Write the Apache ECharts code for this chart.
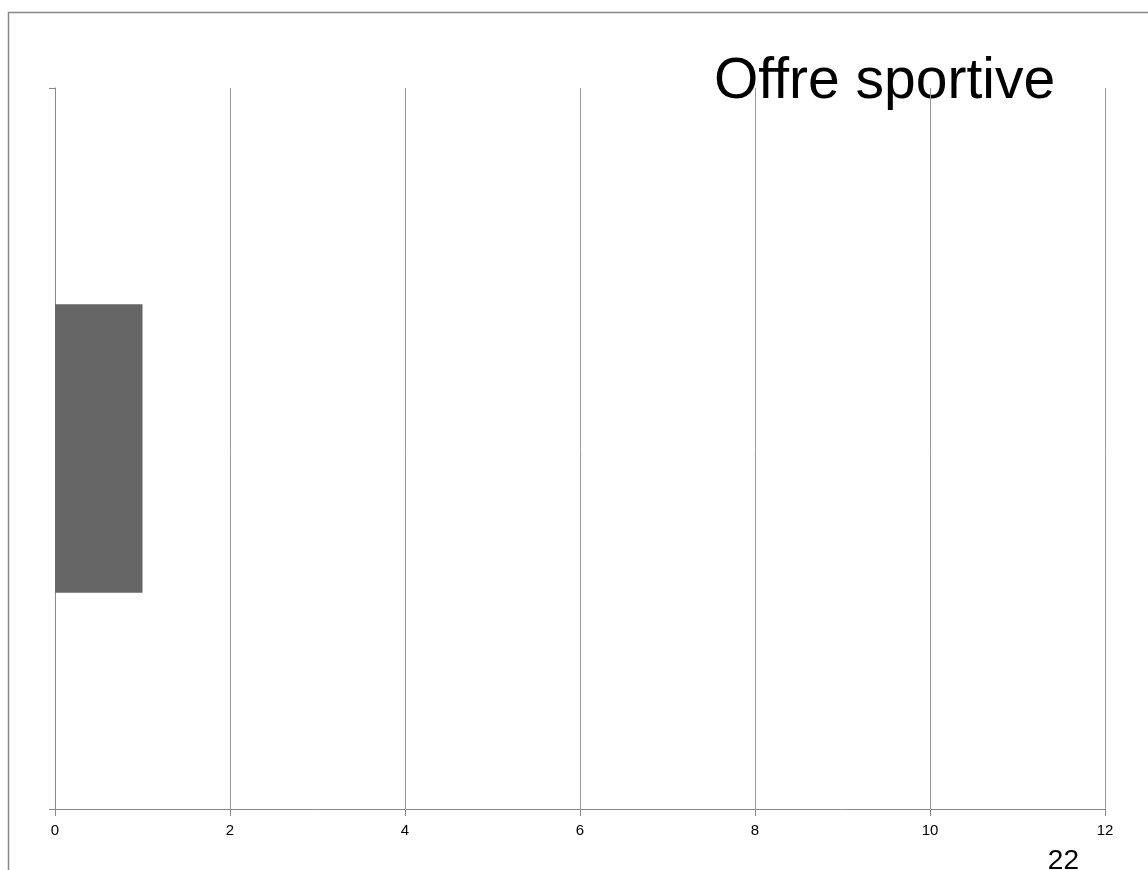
<!DOCTYPE html>
<html>
<head>
<meta charset="utf-8">
<script src="https://cdn.jsdelivr.net/npm/echarts@6/dist/echarts.min.js"></script>
<style>
  html, body { margin: 0; padding: 0; background: #fff; }
  #chart { width: 1148px; height: 870px; }
</style>
</head>
<body>
<div id="chart"></div>
<script>
// data
var categories = [''];
var values = [1];
var xTicks = [0, 2, 4, 6, 8, 10, 12];
var titleText = 'Offre sportive';
var pageNumber = '22';

var chart = echarts.init(document.getElementById('chart'));
chart.setOption({
  animation: false,
  backgroundColor: '#fff',
  textStyle: { fontFamily: 'Liberation Sans, Arial, sans-serif' },
  grid: { left: 55, right: 43, top: 88, bottom: 61, containLabel: false },
  xAxis: {
    type: 'value',
    min: xTicks[0],
    max: xTicks[xTicks.length - 1],
    interval: 2,
    axisLine: { show: true, lineStyle: { color: '#888', width: 1 } },
    axisTick: { show: true, length: 7, lineStyle: { color: '#888' } },
    axisLabel: { color: '#000', fontSize: 15, margin: 14 },
    splitLine: { show: true, lineStyle: { color: '#999', width: 1 } }
  },
  yAxis: {
    type: 'category',
    data: categories,
    axisLine: { show: true, lineStyle: { color: '#888', width: 1 } },
    axisTick: { show: true, length: 6, lineStyle: { color: '#888' } },
    axisLabel: { show: false },
    splitLine: { show: false }
  },
  series: [{
    type: 'bar',
    data: values,
    barWidth: '40%',
    itemStyle: { color: '#666666' }
  }],
  graphic: [
    {
      type: 'polyline',
      silent: true,
      shape: { points: [[8.5, 870], [8.5, 12.5], [1148, 12.5]] },
      style: { stroke: '#888', lineWidth: 1.5, fill: null }
    },
    {
      type: 'text',
      left: 714,
      top: 54,
      style: {
        text: titleText,
        fill: '#000',
        font: '57px "Liberation Sans", Arial, sans-serif'
      }
    },
    {
      type: 'text',
      right: 69,
      top: 847,
      style: {
        text: pageNumber,
        fill: '#000',
        font: '28px "Liberation Sans", Arial, sans-serif'
      }
    }
  ]
});
</script>
</body>
</html>
